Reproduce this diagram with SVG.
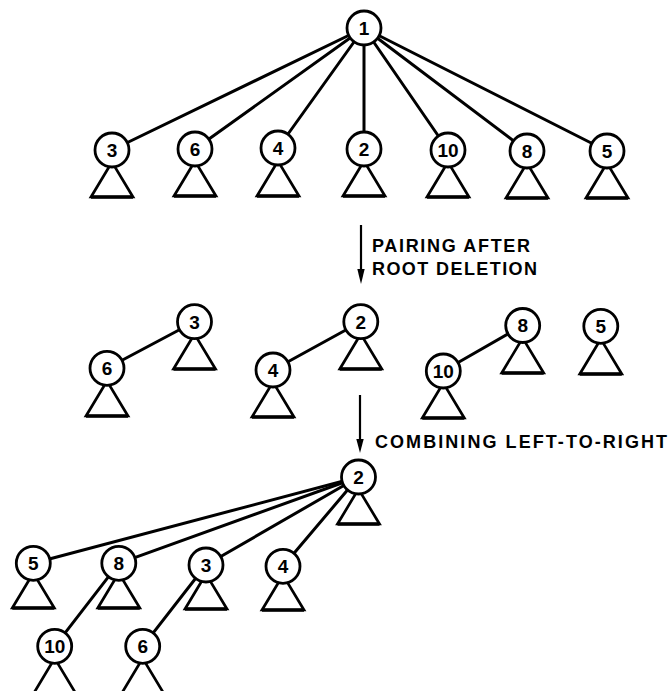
<svg xmlns="http://www.w3.org/2000/svg" xmlns:xlink="http://www.w3.org/1999/xlink" width="670" height="691" viewBox="0 0 670 691">
<style>
.e{stroke:#000;stroke-width:3;fill:none;stroke-linecap:round}
.c{stroke:#000;stroke-width:2.8;fill:#fff}
.t{stroke:#000;stroke-width:2.7;fill:none;stroke-linejoin:miter}
.b{stroke:#000;stroke-width:3.6;fill:none}
.n{font-family:"Liberation Sans",Arial,sans-serif;font-size:19px;font-weight:bold;text-anchor:middle;fill:#000}
.l{font-family:"Liberation Sans",Arial,sans-serif;font-size:18px;font-weight:bold;fill:#000}
.a{stroke:#000;stroke-width:2.2;fill:none}
</style>
<defs>
<g id="tri"><path class="t" d="M0,12 L-21,47 L21,47 Z"/><path class="b" d="M-21,47 L21,47"/></g>
<circle id="cir" class="c" r="17"/>
</defs>
<rect width="670" height="691" fill="#fff"/>
<g id="connectors">
<line class="e" x1="364" y1="28" x2="112" y2="150"/>
<line class="e" x1="364" y1="28" x2="195" y2="149"/>
<line class="e" x1="364" y1="28" x2="278" y2="148"/>
<line class="e" x1="364" y1="28" x2="364" y2="149"/>
<line class="e" x1="364" y1="28" x2="448" y2="150"/>
<line class="e" x1="364" y1="28" x2="527" y2="151"/>
<line class="e" x1="364" y1="28" x2="607" y2="151"/>
<line class="e" x1="194.5" y1="321.7" x2="107" y2="368.3"/>
<line class="e" x1="360.8" y1="321.7" x2="273" y2="370"/>
<line class="e" x1="522.7" y1="325.5" x2="443.3" y2="371"/>
<line class="e" x1="358.5" y1="477" x2="33.3" y2="563.3"/>
<line class="e" x1="358.5" y1="477" x2="118.8" y2="563.3"/>
<line class="e" x1="358.5" y1="477" x2="206" y2="565"/>
<line class="e" x1="358.5" y1="477" x2="283" y2="566.3"/>
<line class="e" x1="118.8" y1="563.3" x2="54.7" y2="646.3"/>
<line class="e" x1="206" y1="565" x2="142.7" y2="646.3"/>
<line class="a" x1="361" y1="225" x2="361" y2="272"/>
<polygon points="361,284 357.3,269 364.7,269" fill="#000"/>
<line class="a" x1="360" y1="395" x2="360" y2="441"/>
<polygon points="360,453 356.3,439 363.7,439" fill="#000"/>
</g>
<g id="labels">
<text class="l" x="372" y="252" textLength="158" lengthAdjust="spacing">PAIRING AFTER</text>
<text class="l" x="372" y="275" textLength="165" lengthAdjust="spacing">ROOT DELETION</text>
<text class="l" x="375" y="448" textLength="292" lengthAdjust="spacing">COMBINING LEFT-TO-RIGHT</text>
</g>
<g id="n1"><use href="#cir" x="364" y="28"/><text class="n" x="364" y="34.8">1</text></g>
<g id="r1-3"><use href="#tri" x="112" y="150"/><use href="#cir" x="112" y="150"/><text class="n" x="112" y="156.8">3</text></g>
<g id="r1-6"><use href="#tri" x="195" y="149"/><use href="#cir" x="195" y="149"/><text class="n" x="195" y="155.8">6</text></g>
<g id="r1-4"><use href="#tri" x="278" y="149"/><use href="#cir" x="278" y="148"/><text class="n" x="278" y="154.8">4</text></g>
<g id="r1-2"><use href="#tri" x="364" y="149"/><use href="#cir" x="364" y="149"/><text class="n" x="364" y="155.8">2</text></g>
<g id="r1-10"><use href="#tri" x="448" y="150"/><use href="#cir" x="448" y="150"/><text class="n" x="448" y="156.8">10</text></g>
<g id="r1-8"><use href="#tri" x="527" y="151"/><use href="#cir" x="527" y="151"/><text class="n" x="527" y="157.8">8</text></g>
<g id="r1-5"><use href="#tri" x="607" y="151"/><use href="#cir" x="607" y="151"/><text class="n" x="607" y="157.8">5</text></g>
<g id="r2-3"><use href="#tri" x="194.5" y="322"/><use href="#cir" x="194.5" y="321.7"/><text class="n" x="194.5" y="328.5">3</text></g>
<g id="r2-6"><use href="#tri" x="107" y="369"/><use href="#cir" x="107" y="368.3"/><text class="n" x="107" y="375.1">6</text></g>
<g id="r2-2"><use href="#tri" x="360.8" y="322"/><use href="#cir" x="360.8" y="321.7"/><text class="n" x="360.8" y="328.5">2</text></g>
<g id="r2-4"><use href="#tri" x="273" y="370"/><use href="#cir" x="273" y="370"/><text class="n" x="273" y="376.8">4</text></g>
<g id="r2-8"><use href="#tri" x="522.7" y="326"/><use href="#cir" x="522.7" y="325.5"/><text class="n" x="522.7" y="332.3">8</text></g>
<g id="r2-10"><use href="#tri" x="443.3" y="371"/><use href="#cir" x="443.3" y="371"/><text class="n" x="443.3" y="377.8">10</text></g>
<g id="r2-5"><use href="#tri" x="600.8" y="327"/><use href="#cir" x="600.8" y="326.3"/><text class="n" x="600.8" y="333.1">5</text></g>
<g id="r3-2"><use href="#tri" x="358.5" y="477"/><use href="#cir" x="358.5" y="477"/><text class="n" x="358.5" y="483.8">2</text></g>
<g id="r3-5"><use href="#tri" x="33.3" y="561"/><use href="#cir" x="33.3" y="563.3"/><text class="n" x="33.3" y="570.1">5</text></g>
<g id="r3-8"><use href="#tri" x="118.8" y="561"/><use href="#cir" x="118.8" y="563.3"/><text class="n" x="118.8" y="570.1">8</text></g>
<g id="r3-3"><use href="#tri" x="206" y="562"/><use href="#cir" x="206" y="565"/><text class="n" x="206" y="571.8">3</text></g>
<g id="r3-4"><use href="#tri" x="283" y="563"/><use href="#cir" x="283" y="566.3"/><text class="n" x="283" y="573.1">4</text></g>
<g id="r3-10"><use href="#tri" x="54.7" y="646.3"/><use href="#cir" x="54.7" y="646.3"/><text class="n" x="54.7" y="653.1">10</text></g>
<g id="r3-6"><use href="#tri" x="142.7" y="646.3"/><use href="#cir" x="142.7" y="646.3"/><text class="n" x="142.7" y="653.1">6</text></g>
</svg>
